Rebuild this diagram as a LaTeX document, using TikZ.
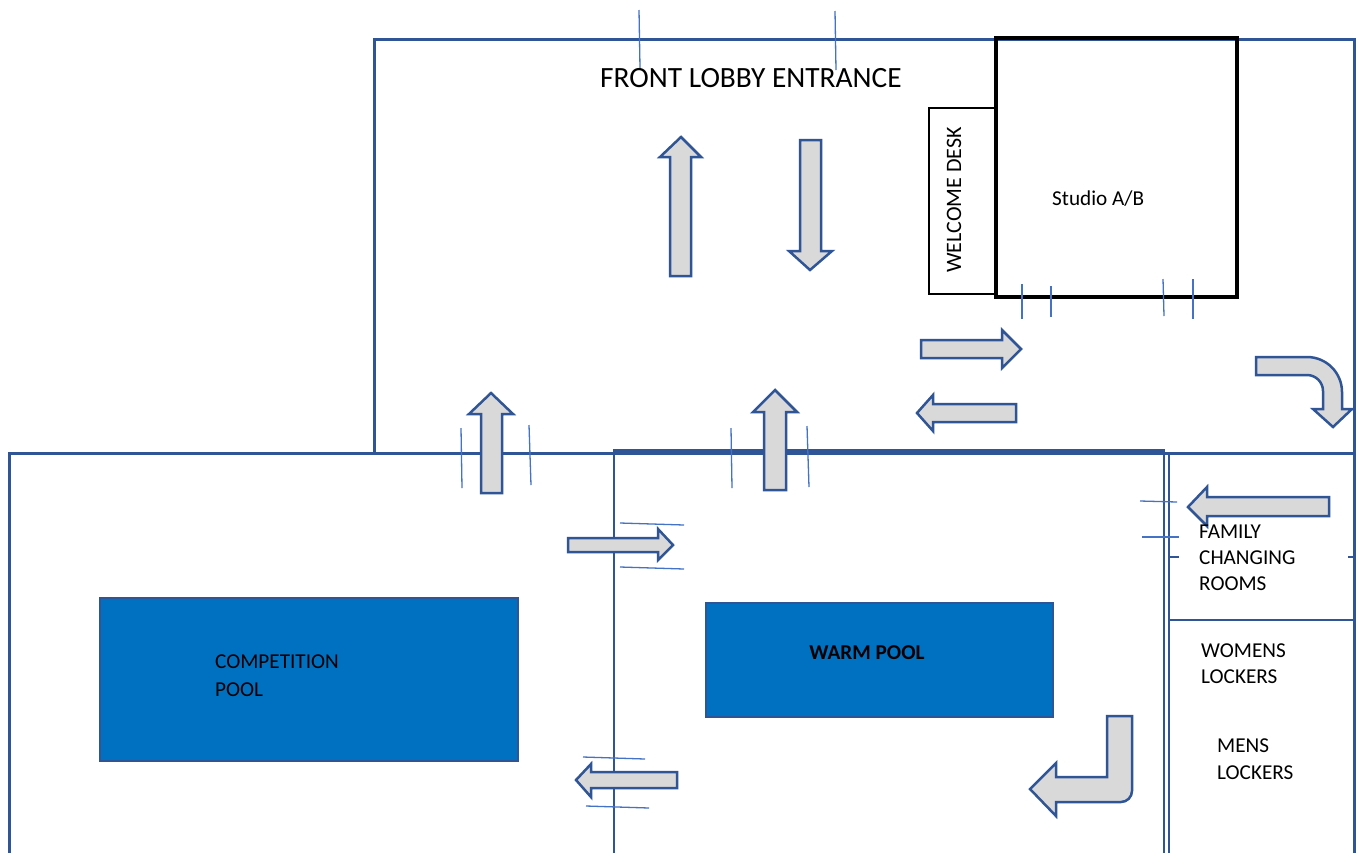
\documentclass[tikz,border=0pt]{standalone}
\usepackage{fontspec}
\setmainfont{Carlito}
\definecolor{wall}{HTML}{2F5597}
\definecolor{doorblue}{HTML}{4472C4}
\definecolor{poolblue}{HTML}{0070C0}
\definecolor{arrowgray}{HTML}{D9D9D9}
\begin{document}
\begin{tikzpicture}[x=1pt,y=-1pt,
  wallline/.style={draw=wall,line width=3pt},
  thinwall/.style={draw=wall,line width=2.6pt},
  doortick/.style={draw=doorblue,line width=1.3pt},
  blockarrow/.style={draw=wall,fill=arrowgray,line width=2.5pt,line join=miter},
  poolbox/.style={draw=wall,fill=poolblue,line width=2.4pt},
  blackbox/.style={draw=black,line width=2pt},
  lbl/.style={inner sep=0pt,anchor=base west,font=\fontsize{21.2}{25}\selectfont}]
\useasboundingbox (0,0) rectangle (1359,852);
\fill[white] (0,0) rectangle (1359,852);

% walls
\draw[wallline] (374,453) -- (374,39) -- (1354,39) -- (1354,853);
\draw[wallline] (9,853) -- (9,453) -- (1354,453);
\draw[thinwall] (614,853) -- (614,450.5) -- (1164,450.5) -- (1164,853);
\draw[thinwall] (1169,453) -- (1169,853);
\draw[thinwall] (1169,620) -- (1354,620);
\draw[thinwall] (1169,557) -- (1179,557);
\draw[thinwall] (1348,557) -- (1354,557);

% studio and desk
\draw[blackbox] (929,108) rectangle (995,294);
\draw[draw=black,line width=3.2pt] (996,38) rectangle (1237,297);

% pools
\draw[poolbox] (100,598) rectangle (518,761);
\draw[poolbox] (706,603) rectangle (1053,717);

% door ticks
\draw[doortick] (639,10) -- (640,68);
\draw[doortick] (835,11) -- (836,70);
\draw[doortick] (1022,284) -- (1022,319);
\draw[doortick] (1051,286) -- (1051,317);
\draw[doortick] (1163,279) -- (1164,316);
\draw[doortick] (1193,279) -- (1193,319);
\draw[doortick] (461,428) -- (462,488);
\draw[doortick] (529,425) -- (531,485);
\draw[doortick] (731,428) -- (732,488);
\draw[doortick] (807,426) -- (809,487);
\draw[doortick] (620,523) -- (684,525);
\draw[doortick] (620,567) -- (684,569);
\draw[doortick] (583,757) -- (645,759);
\draw[doortick] (586,806) -- (649,808);
\draw[doortick] (1140,501) -- (1177,502);
\draw[doortick] (1142,537) -- (1179,537);

% block arrows
\draw[blockarrow] (670,276) -- (691,276) -- (691,157) -- (701,157) -- (681,137) -- (660,157) -- (670,157) -- cycle;
\draw[blockarrow] (800,140) -- (821,140) -- (821,251) -- (832,251) -- (810,270) -- (789,251) -- (800,251) -- cycle;
\draw[blockarrow] (921,340) -- (1002,340) -- (1002,330) -- (1021,349) -- (1002,368) -- (1002,358) -- (921,358) -- cycle;
\draw[blockarrow] (1016,404) -- (933,404) -- (933,395) -- (917,413) -- (933,431) -- (933,422) -- (1016,422) -- cycle;
\draw[blockarrow] (1256,357) -- (1307,357) .. controls (1326.3,357) and (1342,372.7) .. (1342,392)
  -- (1342,409) -- (1352,409) -- (1333,427) -- (1313,409) -- (1323,409) -- (1323,391)
  .. controls (1323,382.2) and (1315.8,375) .. (1307,375) -- (1256,375) -- cycle;
\draw[blockarrow] (1329,497) -- (1207,497) -- (1207,487) -- (1188,507) -- (1207,526) -- (1207,516) -- (1329,516) -- cycle;
\draw[blockarrow] (481,493) -- (502,493) -- (502,414) -- (513,414) -- (491,393) -- (469,414) -- (481,414) -- cycle;
\draw[blockarrow] (764,490) -- (786,490) -- (786,412) -- (797,412) -- (775,390) -- (753,412) -- (764,412) -- cycle;
\draw[blockarrow] (568,538) -- (658,538) -- (658,529) -- (673,545) -- (658,560) -- (658,552) -- (568,552) -- cycle;
\draw[blockarrow] (677,772) -- (591,772) -- (591,764) -- (576,780) -- (591,797) -- (591,788) -- (677,788) -- cycle;
\draw[blockarrow] (1107,716) -- (1132,716) -- (1132,791) .. controls (1132,797) and (1127,802) .. (1121,802)
  -- (1056,802) -- (1056,816) -- (1030,789) -- (1056,763) -- (1056,777) -- (1107,777) -- cycle;

% labels
\node[lbl,font=\fontsize{29.4}{34}\selectfont] (lobby) at (600,87) {FRONT LOBBY ENTRANCE};
\node[lbl] (studio) at (1052,205) {Studio A/B};
\node[lbl,rotate=90,font=\fontsize{22}{26}\selectfont] (desk) at (961,273) {WELCOME DESK};
\node[lbl] (comp1) at (215,668) {COMPETITION};
\node[lbl] (comp2) at (215,696) {POOL};
\node[inner sep=0pt,anchor=base,font=\fontsize{21.2}{25}\selectfont\bfseries] (warm) at (867,659) {WARM POOL};
\node[lbl] (fam1) at (1199,538) {FAMILY};
\node[lbl] (fam2) at (1199,564) {CHANGING};
\node[lbl] (fam3) at (1199,590.5) {ROOMS};
\node[lbl] (wom1) at (1201,657) {WOMENS};
\node[lbl] (wom2) at (1201,683) {LOCKERS};
\node[lbl] (men1) at (1217,752) {MENS};
\node[lbl] (men2) at (1217,779) {LOCKERS};
\end{tikzpicture}
\end{document}
